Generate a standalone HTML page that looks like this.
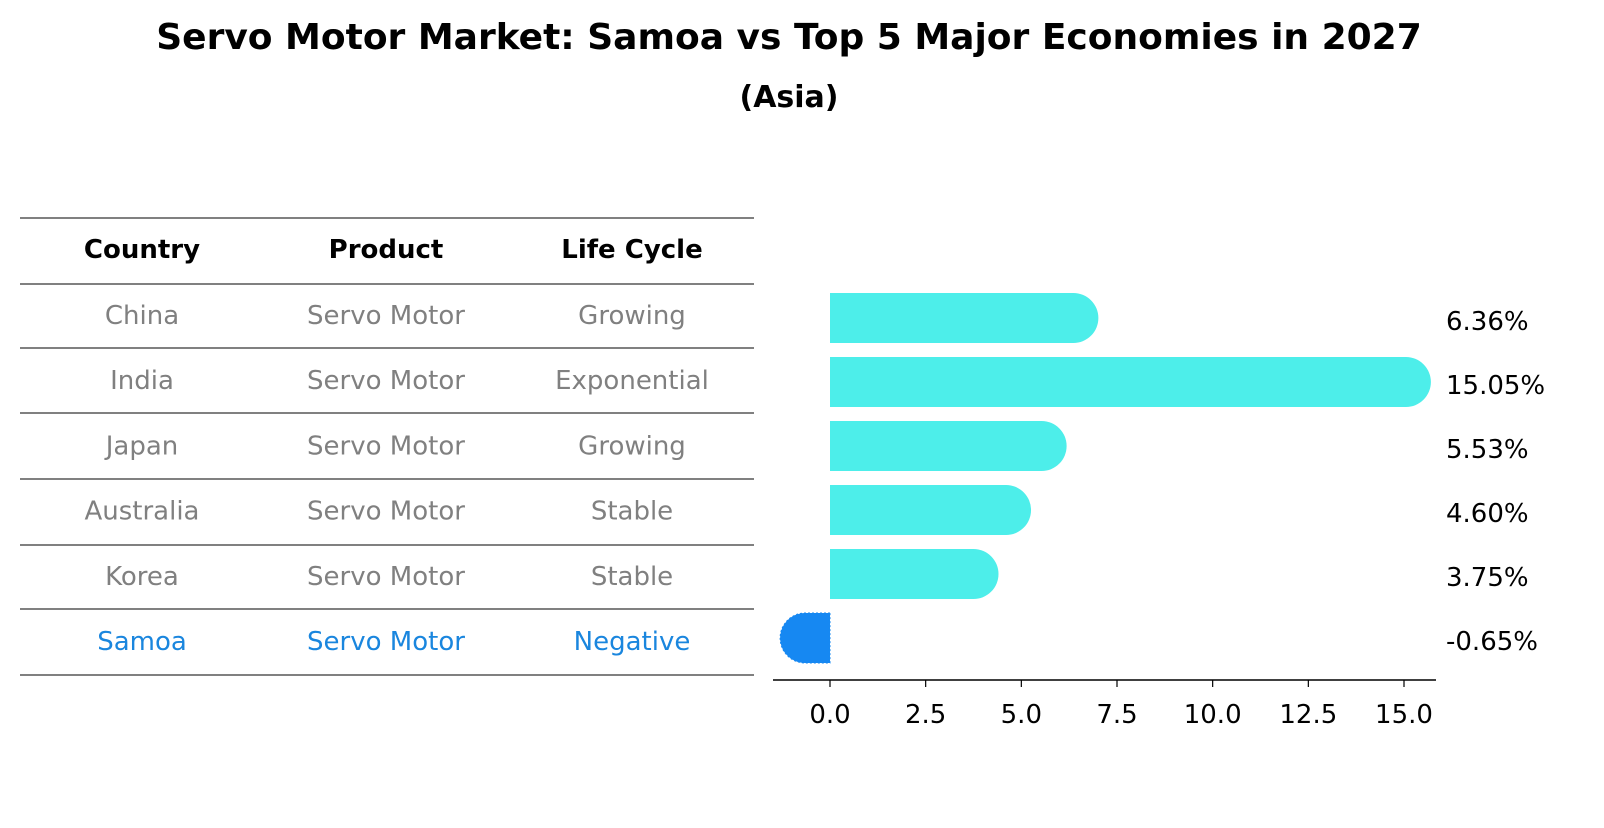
<!DOCTYPE html>
<html><head><meta charset="utf-8"><style>
body{margin:0;background:#fff;font-family:"Liberation Sans","DejaVu Sans",sans-serif;}
svg text{font-family:"DejaVu Sans","Liberation Sans",sans-serif;}
</style></head><body>
<svg width="1604" height="823" viewBox="0 0 1604 823" xmlns="http://www.w3.org/2000/svg">
<text x="789" y="49" text-anchor="middle" font-size="36" font-weight="bold">Servo Motor Market: Samoa vs Top 5 Major Economies in 2027</text>
<text x="789" y="107" text-anchor="middle" font-size="30" font-weight="bold">(Asia)</text>
<g id="table"></g>
<g id="bars"></g>
</svg>
<script>
const countries=["China","India","Japan","Australia","Korea","Samoa"];
const products=["Servo Motor","Servo Motor","Servo Motor","Servo Motor","Servo Motor","Servo Motor"];
const cycles=["Growing","Exponential","Growing","Stable","Stable","Negative"];
const values=[6.36,15.05,5.53,4.60,3.75,-0.65];
const ticks=[0,2.5,5,7.5,10,12.5,15];
const NS="http://www.w3.org/2000/svg";
function mk(tag,attrs,parent){const e=document.createElementNS(NS,tag);for(const k in attrs)e.setAttribute(k,attrs[k]);parent.appendChild(e);return e;}
const tbl=document.getElementById('table');
const lines=[218,284,348,413,479,545,609,675];
lines.forEach(y=>{const l=mk('line',{x1:20,x2:754,y1:y,y2:y,stroke:'#000','stroke-width':1},tbl);

});
const colX=[142,386,632];
["Country","Product","Life Cycle"].forEach((h,i)=>{const t=mk('text',{x:colX[i],y:258,'text-anchor':'middle','font-size':26,'font-weight':'bold'},tbl);t.textContent=h;

});
const rowY=i=>315+i*65.2;
countries.forEach((c,i)=>{const col=c==="Samoa"?'#1a86de':'#808080';
[c,products[i],cycles[i]].forEach((v,j)=>{const t=mk('text',{x:colX[j],y:rowY(i)+9,'text-anchor':'middle','font-size':26,fill:col},tbl);t.textContent=v;

});});
const g=document.getElementById('bars');
const x=v=>830+v*(574/15);
const y=i=>318+i*64;
const bh=50,r=25;
values.forEach((v,i)=>{const cy=y(i);const x0=x(0),x1=x(v);let d;
if(v>=0)d=`M${x0},${cy-bh/2}H${x1}A${r},${r} 0 0 1 ${x1},${cy+bh/2}H${x0}Z`;
else d=`M${x0},${cy-bh/2}H${x1}A${r},${r} 0 0 0 ${x1},${cy+bh/2}H${x0}Z`;
const p=mk('path',{d:d,fill:v>=0?'#4deeea':'#1688f2',stroke:v>=0?'none':'#1688f2','stroke-dasharray':v>=0?'':'2,2'},g);


const t=mk('text',{x:1446,y:cy+12,'font-size':26},g);t.textContent=v.toFixed(2)+'%';

});
const ax=mk('line',{x1:773,x2:1436,y1:680,y2:680,stroke:'#000','stroke-width':1.5},g);


ticks.forEach(tv=>{const l=mk('line',{x1:x(tv),x2:x(tv),y1:680,y2:687,stroke:'#000','stroke-width':1.2},g);


const t=mk('text',{x:x(tv),y:723,'text-anchor':'middle','font-size':26},g);t.textContent=tv.toFixed(1);

});
</script>
</body></html>
